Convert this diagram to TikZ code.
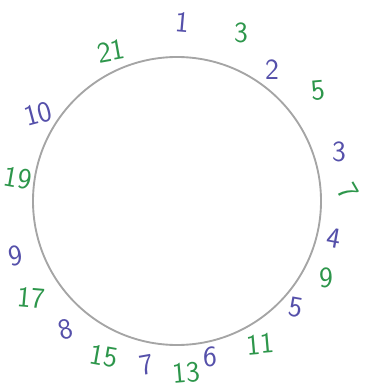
\documentclass[tikz,border=0pt]{standalone}
\begin{document}
\begin{tikzpicture}[x=0.75pt,y=-0.75pt,
  lbl/.style={font=\sffamily\fontsize{22}{22}\selectfont, inner sep=0pt},
  odd/.style={lbl, text=grn},
  nat/.style={lbl, text=pur}]
\definecolor{grn}{RGB}{45,150,75}
\definecolor{pur}{RGB}{85,80,170}
\definecolor{pencil}{RGB}{165,165,165}
\useasboundingbox (0,0) rectangle (365,391);
\node[draw=pencil, line width=1.4pt, circle, minimum size=288*0.75pt, inner sep=0pt] (c) at (177,201) {};
% natural numbers (purple)
\node[nat, rotate=-5] (n1) at (182,22) {1};
\node[nat] (n2) at (272,70) {2};
\node[nat] (n3) at (339,152) {3};
\node[nat, rotate=-10] (n4) at (334,238) {4};
\node[nat, rotate=-10] (n5) at (296,307) {5};
\node[nat] (n6) at (210,357) {6};
\node[nat, rotate=10] (n7) at (147,365) {7};
\node[nat, rotate=15] (n8) at (66,329) {8};
\node[nat, rotate=10] (n9) at (16,256) {9};
\node[nat, rotate=15] (n10) at (38,114) {10};
% odd numbers (green)
\node[odd] (o3) at (241,33) {3};
\node[odd, rotate=5] (o5) at (318,91) {5};
\node[odd, rotate=-60] (o7) at (348,192) {7};
\node[odd] (o9) at (326,278) {9};
\node[odd, rotate=5] (o11) at (260,344) {11};
\node[odd, rotate=5] (o13) at (186,373) {13};
\node[odd, rotate=-10] (o15) at (104,356) {15};
\node[odd, rotate=-5] (o17) at (31,298) {17};
\node[odd, rotate=-10] (o19) at (18,178) {19};
\node[odd, rotate=10] (o21) at (111,51) {21};
\end{tikzpicture}
\end{document}
